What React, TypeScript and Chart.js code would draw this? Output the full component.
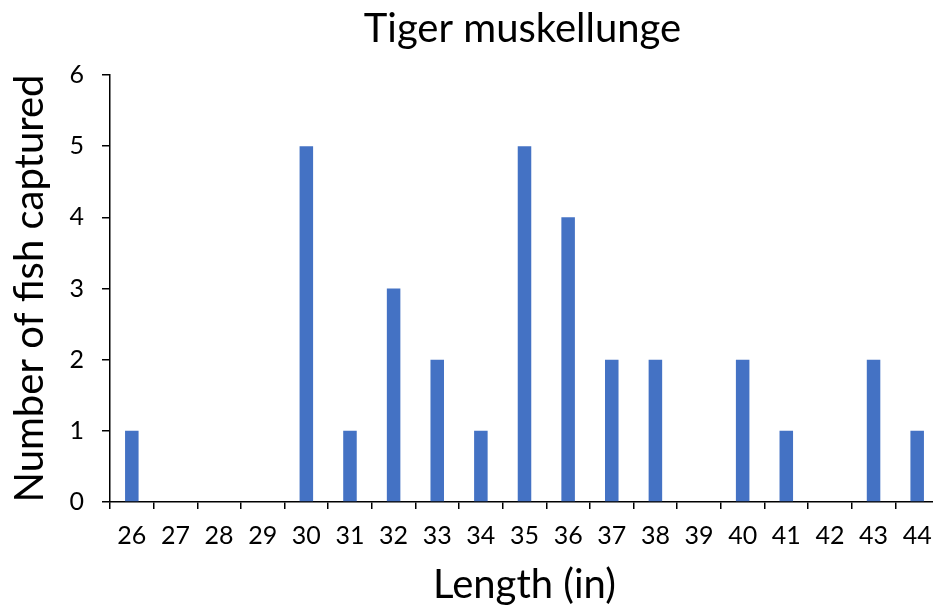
import React, { useEffect, useRef } from "react";
import { Chart, registerables } from "chart.js";

Chart.register(...registerables);

const categories = ["26","27","28","29","30","31","32","33","34","35","36","37","38","39","40","41","42","43","44"];
const fishCounts = [1,0,0,0,5,1,3,2,1,5,4,2,2,0,2,1,0,2,1];
const yTicks = [0,1,2,3,4,5,6];
const chartTitle = "Tiger muskellunge";
const xTitle = "Length (in)";
const yTitle = "Number of fish captured";

const FONT = "Lato, 'Open Sans', sans-serif";

const titlePlugin = {
  id: "centerTitle",
  afterDraw(chart: any) {
    const { ctx, chartArea } = chart;
    ctx.save();
    ctx.font = `40px ${FONT}`;
    ctx.fillStyle = "#000";
    ctx.textAlign = "center";
    ctx.textBaseline = "alphabetic";
    ctx.fillText(chartTitle, (chartArea.left + chartArea.right) / 2 - 2, 42);
    ctx.restore();
  },
};

export default function App() {
  const ref = useRef<HTMLCanvasElement | null>(null);
  useEffect(() => {
    if (!ref.current) return;
    const chart = new Chart(ref.current, {
      type: "bar",
      data: {
        labels: categories,
        datasets: [
          {
            data: fishCounts,
            backgroundColor: "#4472C4",
            categoryPercentage: 1,
            barPercentage: 0.31,
          },
        ],
      },
      options: {
        animation: false,
        responsive: false,
        devicePixelRatio: 1,
        layout: { padding: { top: 75, right: 6, left: 0, bottom: 0 } },
        plugins: { legend: { display: false }, tooltip: { enabled: false }, title: { display: false } },
        scales: {
          x: {
            offset: true,
            grid: {
              offset: true,
              drawOnChartArea: false,
              drawTicks: true,
              tickLength: 7,
              color: "#000",
              lineWidth: 1.5,
            },
            border: { display: true, color: "#000", width: 1.5 },
            ticks: {
              color: "#000",
              font: { family: FONT, size: 25 },
              padding: 12,
              maxRotation: 0,
              autoSkip: false,
            },
            title: {
              display: true,
              text: xTitle,
              color: "#000",
              font: { family: FONT, size: 40 },
              padding: { top: 0, bottom: 1 },
            },
            afterFit: (scale: any) => {
              scale.height = 108;
            },
          },
          y: {
            min: 0,
            max: 6,
            afterBuildTicks: (scale: any) => {
              scale.ticks = yTicks.map((v) => ({ value: v }));
            },
            grid: {
              drawOnChartArea: false,
              drawTicks: true,
              tickLength: 8,
              color: "#000",
              lineWidth: 1.5,
            },
            border: { display: true, color: "#000", width: 1.5 },
            ticks: {
              color: "#000",
              font: { family: FONT, size: 25 },
              padding: 18,
            },
            title: {
              display: true,
              text: yTitle,
              color: "#000",
              font: { family: FONT, size: 40 },
              padding: { top: 6, bottom: 0 },
            },
            afterFit: (scale: any) => {
              scale.width = 110;
            },
          },
        },
      },
      plugins: [titlePlugin],
    });
    return () => chart.destroy();
  }, []);
  return (
    <div style={{ position: "fixed", left: 0, top: 0, width: 933, height: 610, overflow: "hidden", background: "#fff" }}>
      <canvas ref={ref} width={945} height={610} style={{ width: 945, height: 610, display: "block" }} />
    </div>
  );
}
